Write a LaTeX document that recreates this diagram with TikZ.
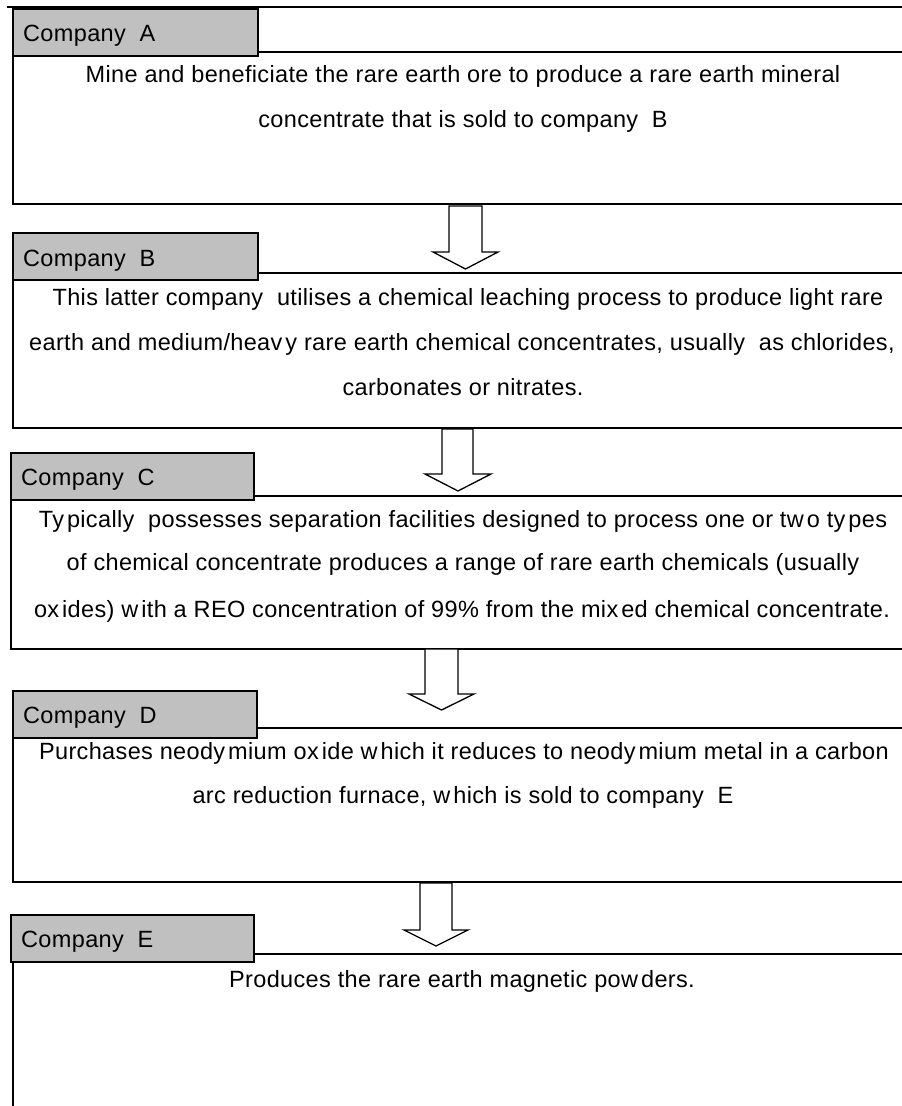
\documentclass[tikz,border=0pt]{standalone}
\usepackage{fontspec}
\setmainfont{Liberation Sans}[LetterSpace=1.5]
\definecolor{labelgray}{RGB}{192,192,192}
\newcommand{\gp}{\kern3pt}
\tikzset{
  mainbox/.style={draw, line width=1.3pt, rectangle, anchor=north west, inner sep=0pt, outer sep=0pt},
  labelbox/.style={draw, line width=1.6pt, fill=labelgray, rectangle, anchor=north west, inner sep=0pt, outer sep=0pt, minimum width=245pt, minimum height=47pt},
  labeltext/.style={anchor=base west, inner sep=0pt, font=\fontsize{23.5}{28}\selectfont},
  bodytext/.style={anchor=base, inner sep=0pt, font=\fontsize{23.5}{28}\selectfont},
  blockarrow/.style={draw, line width=1.3pt, fill=white, line join=miter},
  topline/.style={draw, line width=1.7pt},
}
\begin{document}
\begin{tikzpicture}[x=1pt,y=-1pt]
\useasboundingbox (0,0) rectangle (902,1106);
\fill[white] (0,0) rectangle (902,1106);

% top frame line
\coordinate (tl) at (7,6.7);
\coordinate (tr) at (912,6.7);
\draw[topline] (tl) -- (tr);

% main boxes
\node[mainbox, minimum width=898pt, minimum height=152pt] (boxA) at (13,52) {};
\node[mainbox, minimum width=898pt, minimum height=155pt] (boxB) at (13,273) {};
\node[mainbox, minimum width=900pt, minimum height=153pt] (boxC) at (11,496) {};
\node[mainbox, minimum width=898pt, minimum height=154pt] (boxD) at (13,728) {};
\node[mainbox, minimum width=898pt, minimum height=200pt] (boxE) at (13,954) {};

% labels
\node[labelbox] (labA) at (13,9) {};
\node[labeltext] (labAt) at (23,41) {Company\ \ A};
\node[labelbox] (labB) at (13,233) {};
\node[labeltext] (labBt) at (23,266) {Company\ \ B};
\node[labelbox, minimum width=243pt] (labC) at (11,453) {};
\node[labeltext] (labCt) at (21,485.5) {Company\ \ C};
\node[labelbox, minimum width=244pt] (labD) at (13,691) {};
\node[labeltext] (labDt) at (23,723) {Company\ \ D};
\node[labelbox, minimum width=243pt] (labE) at (11,915) {};
\node[labeltext] (labEt) at (21,947.5) {Company\ \ E};

% body text
\node[bodytext] (a1) at (463,82) {Mine and beneficiate the rare earth ore to produce a rare earth mineral};
\node[bodytext] (a2) at (463,127) {concentrate that is sold to company\ \ B};

\node[bodytext] (b1) at (468,305) {This latter company\ \ utilises a chemical leaching process to produce light rare};
\node[bodytext] (b2) at (462,350) {earth and medium/heav\gp y rare earth chemical concentrates, usually\ \ as chlorides,};
\node[bodytext] (b3) at (463,395) {carbonates or nitrates.};

\node[bodytext] (c1) at (463,527) {Ty\gp pically\ \ possesses separation facilities designed to process one or tw\gp o ty\gp pes};
\node[bodytext] (c2) at (463,570) {of chemical concentrate produces a range of rare earth chemicals (usually};
\node[bodytext] (c3) at (462,617) {ox\gp ides) w\gp ith a REO concentration of 99\% from the mix\gp ed chemical concentrate.};

\node[bodytext] (d1) at (464,759) {Purchases neody\gp mium ox\gp ide w\gp hich it reduces to neody\gp mium metal in a carbon};
\node[bodytext] (d2) at (463,803) {arc reduction furnace, w\gp hich is sold to company\ \ E};

\node[bodytext] (e1) at (462,987) {Produces the rare earth magnetic pow\gp ders.};

% block arrows between boxes
\draw[blockarrow] (449,206) -- (449,252) -- (433,252) -- (465.5,269) -- (498,252) -- (482,252) -- (482,206) -- cycle;
\draw[blockarrow] (442,429) -- (442,474) -- (425,474) -- (458,491) -- (491,474) -- (473,474) -- (473,429) -- cycle;
\draw[blockarrow] (425,649) -- (425,694) -- (409,694) -- (441.5,710) -- (474,694) -- (458,694) -- (458,649) -- cycle;
\draw[blockarrow] (420,883) -- (420,930) -- (404,930) -- (436,946) -- (468,930) -- (452,930) -- (452,883) -- cycle;
\end{tikzpicture}
\end{document}
